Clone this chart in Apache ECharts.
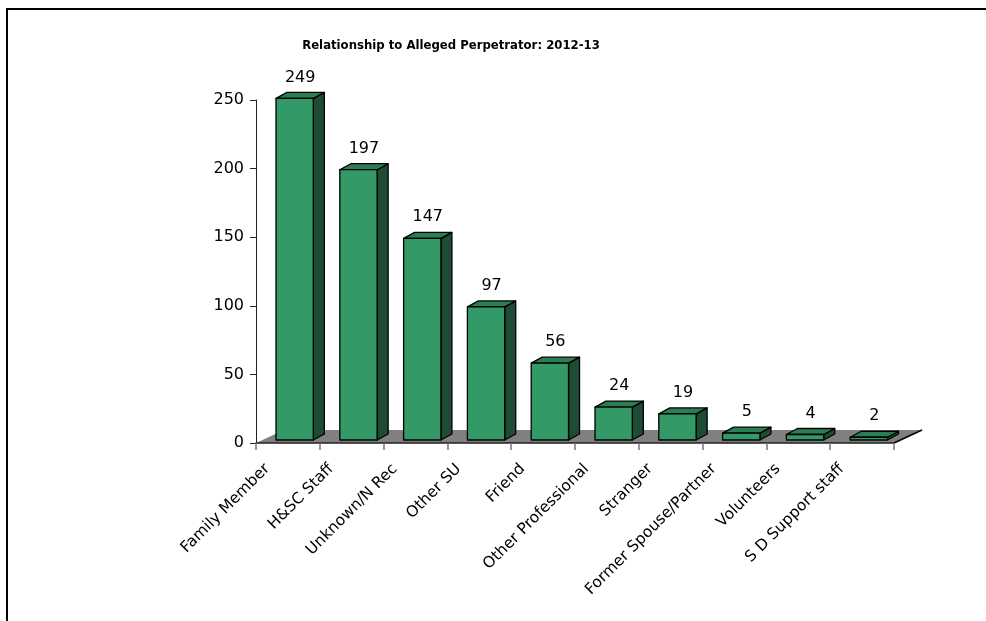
<!DOCTYPE html>
<html>
<head>
<meta charset="utf-8">
<script src="https://cdn.jsdelivr.net/npm/echarts@6/dist/echarts.min.js"></script>
<style>
html,body{margin:0;padding:0;background:#fff;}
#chart{width:986px;height:621px;}
</style>
</head>
<body>
<div id="chart"></div>
<script>
var titleText = 'Relationship to Alleged Perpetrator: 2012-13';
var categories = ['Family Member','H&SC Staff','Unknown/N Rec','Other SU','Friend','Other Professional','Stranger','Former Spouse/Partner','Volunteers','S D Support staff'];
var values = [249,197,147,97,56,24,19,5,4,2];
var yTicks = [0,50,100,150,200,250];

var chart = echarts.init(document.getElementById('chart'));

var FONT = 'DejaVu Sans';

function renderFloor(params, api) {
  var p0 = api.coord([0, 0]);
  var bw = api.size([1, 0])[0];
  var n = categories.length;
  var x0 = p0[0] - bw / 2;
  var x1 = x0 + bw * n;
  var y0 = p0[1];
  var dx = 28, dy = -13;
  return {
    type: 'group',
    children: [
      { type: 'polygon', shape: { points: [[x0, y0], [x1, y0], [x1 + dx, y0 + dy], [x0 + dx, y0 + dy]] },
        style: { fill: '#808080', stroke: null } },
      { type: 'line', shape: { x1: x1, y1: y0, x2: x1 + dx, y2: y0 + dy },
        style: { stroke: '#000', lineWidth: 1.5 } }
    ]
  };
}

function renderBar(params, api) {
  var idx = api.value(0);
  var v = api.value(1);
  var base = api.coord([idx, 0]);
  var top = api.coord([idx, v]);
  var bw = api.size([1, 0])[0];
  var w = bw * 0.585;
  var off = bw * 0.106;
  var fdy = -3;
  var dx = 11, dy = -6;
  var xl = base[0] + off - w / 2;
  var xr = xl + w;
  var yb = base[1] + fdy;
  var yt = top[1] + fdy;
  var stroke = { stroke: '#000', lineWidth: 1.3, lineJoin: 'round' };
  return {
    type: 'group',
    children: [
      { type: 'polygon', shape: { points: [[xr, yb], [xr + dx, yb + dy], [xr + dx, yt + dy], [xr, yt]] },
        style: Object.assign({ fill: '#1d4b33' }, stroke) },
      { type: 'polygon', shape: { points: [[xl, yt], [xr, yt], [xr + dx, yt + dy], [xl + dx, yt + dy]] },
        style: Object.assign({ fill: '#2b7d53' }, stroke) },
      { type: 'rect', shape: { x: xl, y: yt, width: w, height: yb - yt },
        style: Object.assign({ fill: '#339966' }, stroke) },
      { type: 'text', x: (xl + xr) / 2 + dx / 2, y: yt + dy - 7,
        style: { text: String(v), fill: '#000', font: '16px "' + FONT + '"', textAlign: 'center', textVerticalAlign: 'bottom' } }
    ]
  };
}

var option = {
  animation: false,
  grid: { left: 256, right: 92, top: 100, bottom: 178, containLabel: false },
  xAxis: {
    type: 'category',
    data: categories,
    boundaryGap: true,
    axisLine: { show: true, lineStyle: { color: '#222', width: 1.5 } },
    axisTick: { show: true, length: 7, lineStyle: { color: '#777', width: 1.5 } },
    axisLabel: { interval: 0, rotate: 45, fontFamily: FONT, fontSize: 15.5, color: '#000', margin: 3,
      padding: [0, 29, 0, 0] },
    z: 10
  },
  yAxis: {
    type: 'value',
    min: 0, max: 250, interval: 50,
    axisLine: { show: true, lineStyle: { color: '#222', width: 1 } },
    axisTick: { show: true, length: 6, lineStyle: { color: '#222' } },
    axisLabel: { fontFamily: FONT, fontSize: 16, color: '#000', margin: 12,
      formatter: function (v) { return yTicks.indexOf(v) >= 0 ? String(v) : ''; } },
    splitLine: { show: false }
  },
  graphic: [
    { type: 'line', shape: { x1: 7, y1: 9, x2: 7, y2: 621 }, style: { stroke: '#000', lineWidth: 2 } },
    { type: 'line', shape: { x1: 6, y1: 9, x2: 986, y2: 9 }, style: { stroke: '#000', lineWidth: 2 } },
    { type: 'text', x: 451, y: 46, style: { text: titleText, font: 'bold 13px "DejaVu Sans Condensed", "DejaVu Sans"', fill: '#000', textAlign: 'center', textVerticalAlign: 'middle' } }
  ],
  series: [
    { type: 'custom', renderItem: renderFloor, data: [[0, 0]], z: 1, silent: true },
    { type: 'custom', renderItem: renderBar, data: values.map(function (v, i) { return [i, v]; }), z: 2,
      encode: { x: 0, y: 1 } }
  ]
};
chart.setOption(option);
</script>
</body>
</html>
